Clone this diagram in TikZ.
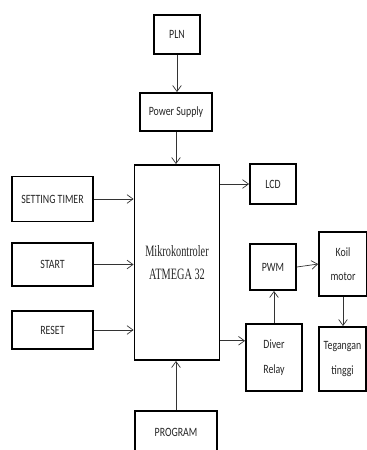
\documentclass[tikz,border=0pt]{standalone}
\usepackage{fontspec}
\setmainfont{Carlito}[FakeStretch=0.78]
\newfontfamily\mcufont{Liberation Serif}[FakeStretch=0.65]
\usepackage{tikz}
\usetikzlibrary{arrows.meta, positioning}

\begin{document}
\begin{tikzpicture}[
  x=0.03cm, y=-0.03cm,
  font=\fontsize{10.8}{21}\selectfont,
  blk/.style={draw, line width=1.6pt, inner sep=0pt, align=center, text=black!85},
  mcu/.style={blk, font=\mcufont\fontsize{13.5}{19}\selectfont},
  ark/.style={-{Straight Barb[length=1.8mm, width=2.6mm]}, line width=0.6pt, black!80}
]
\useasboundingbox (0,0) rectangle (367,450);
\node[blk, minimum width=1.38cm, minimum height=1.17cm] (pln) at (177,34.5) {PLN};
\node[blk, minimum width=2.16cm, minimum height=1.14cm] (psu) at (176,112) {Power Supply};
\node[mcu, minimum width=2.55cm, minimum height=5.85cm] (mcu) at (177,262.5) {Mikrokontroler\\ATMEGA 32};
\node[blk, minimum width=2.43cm, minimum height=1.35cm] (set) at (52.5,199) {SETTING TIMER};
\node[blk, minimum width=2.43cm, minimum height=1.29cm] (sta) at (52.5,264.5) {START};
\node[blk, minimum width=2.43cm, minimum height=1.14cm] (rst) at (52.5,330) {RESET};
\node[blk, minimum width=1.38cm, minimum height=1.2cm] (lcd) at (273,184) {LCD};
\node[blk, minimum width=1.38cm, minimum height=1.38cm] (pwm) at (273,267) {PWM};
\node[blk, minimum width=1.44cm, minimum height=1.92cm] (koil) at (343,264) {Koil\\motor};
\node[blk, minimum width=1.68cm, minimum height=2.01cm] (drv) at (274,357.5) {Diver\\Relay};
\node[blk, minimum width=1.41cm, minimum height=1.92cm] (hv) at (342.5,359) {Tegangan\\tinggi};
\node[blk, minimum width=2.46cm, minimum height=1.26cm] (prg) at (176,432) {PROGRAM};
\draw[ark] (pln.south) -- (pln.south |- psu.north);
\draw[ark] (psu.south) -- (psu.south |- mcu.north);
\draw[ark] (set.east) -- (set.east -| mcu.west);
\draw[ark] (sta.east) -- (sta.east -| mcu.west);
\draw[ark] (rst.east) -- (rst.east -| mcu.west);
\draw[ark] (mcu.east |- lcd.west) -- (lcd.west);
\draw[ark] (mcu.east |- drv.150) -- (drv.150);
\draw[ark] (drv.north) -- (drv.north |- pwm.south);
\draw[ark] (pwm.east) -- (koil.west);
\draw[ark] (koil.south) -- (koil.south |- hv.north);
\draw[ark] (prg.north) -- (prg.north |- mcu.south);
\end{tikzpicture}
\end{document}
